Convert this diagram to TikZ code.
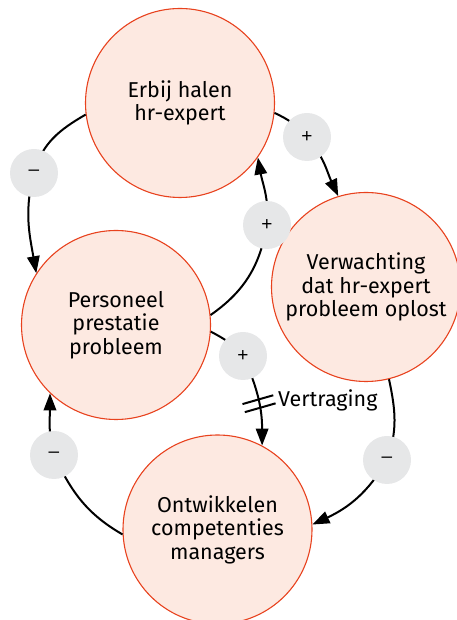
\documentclass[tikz,border=0pt]{standalone}
\usepackage{fontspec}
\setmainfont{Fira Sans}
\newfontfamily\polarityfont{Liberation Sans}
\usetikzlibrary{arrows.meta}
\definecolor{loopfill}{RGB}{253,233,225}
\definecolor{loopedge}{RGB}{232,66,30}
\definecolor{signfill}{RGB}{230,231,232}
\pgfdeclarelayer{back}
\pgfdeclarelayer{front}
\pgfsetlayers{back,main,front}
\begin{document}
\begin{tikzpicture}[x=1pt,y=1pt,
  factor/.style={circle, draw=loopedge, line width=1.1pt, fill=loopfill,
    minimum size=189pt, inner sep=0pt, align=center,
    font=\fontsize{21.5}{23.5}\selectfont},
  sign/.style={circle, fill=signfill, minimum size=48pt, inner sep=0pt,
    font=\polarityfont\fontsize{19}{19}\selectfont},
  link/.style={draw=black, line width=2pt},
  linkarrow/.style={link, -{Triangle[length=17pt,width=12.5pt]}},
  delaymark/.style={draw=black, line width=2pt},
]
\clip (0,0) rectangle (456,620);

% causal factors
\begin{pgfonlayer}{back}
  \node[factor] (c1) at (180,517) {Erbij halen\\hr-expert};
  \node[factor] (c2) at (366,333) {Verwachting\\dat hr-expert\\probleem oplost};
  \node[factor] (c3) at (116,295) {Personeel\\prestatie\\probleem};
  \node[factor] (c4) at (217.5,90.5) {Ontwikkelen\\competenties\\managers};
\end{pgfonlayer}

% polarity badges
\begin{pgfonlayer}{front}
  \node[sign] (bA) at (34,447)  {–};
  \node[sign] (bB) at (307,483) {+};
  \node[sign] (bC) at (267,395) {+};
  \node[sign] (bD) at (243,264) {+};
  \node[sign] (bE) at (387,160) {–};
  \node[sign] (bF) at (54,165)  {–};
\end{pgfonlayer}

% causal links
\draw[link] (c1.187) to[out=210,in=75] (bA.center);
\draw[linkarrow] (bA.center) to[out=255,in=100] (c3.147);

\draw[link] (c1.-6) to[out=-25,in=131] (bB.center);
\draw[linkarrow] (bB.center) to[out=-49,in=115] (c2.107);

\draw[link] (c3.6) to[out=35,in=-100] (bC.center);
\draw[linkarrow] (bC.center) to[out=85,in=-80] (c1.-35);

\draw[link] (c3.-4) to[out=-28,in=130] (bD.center);
\draw[linkarrow] (bD.center) to[out=-65,in=90] coordinate[pos=0.55] (delay) (c4.62);

\draw[link] (c2.-76) to[out=-78,in=70] (bE.center);
\draw[linkarrow] (bE.center) to[out=-120,in=25] (c4.3);

\draw[link] (c4.183) to[out=150,in=-65] (bF.center);
\draw[linkarrow] (bF.center) to[out=105,in=-90] (c3.226);

% delay marker
\begin{scope}[shift={(delay)}, rotate=16]
  \draw[delaymark] (-16,4.2) -- (16,4.2) (-16,-4.2) -- (16,-4.2);
\end{scope}
\node[anchor=west, inner sep=0pt, font=\fontsize{21.5}{23.5}\selectfont]
  (delaylabel) at ([xshift=19pt,yshift=3pt]delay) {Vertraging};
\end{tikzpicture}
\end{document}
